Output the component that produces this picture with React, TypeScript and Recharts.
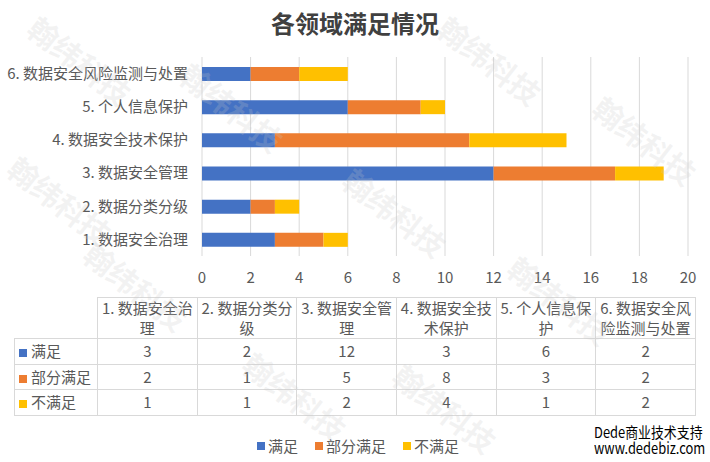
import React from "react";
import { Bar, BarChart, CartesianGrid, XAxis, YAxis } from "recharts";

const categories = [
  "1. 数据安全治理",
  "2. 数据分类分级",
  "3. 数据安全管理",
  "4. 数据安全技术保护",
  "5. 个人信息保护",
  "6. 数据安全风险监测与处置",
];
const satisfied = [3, 2, 12, 3, 6, 2];
const partial = [2, 1, 5, 8, 3, 2];
const unsatisfied = [1, 1, 2, 4, 1, 2];
const xTicks = [0, 2, 4, 6, 8, 10, 12, 14, 16, 18, 20];

const seriesNames = ["满足", "部分满足", "不满足"];
const seriesKeys = ["s", "p", "u"];
const seriesValues = [satisfied, partial, unsatisfied];
const seriesColors = ["#4472C4", "#ED7D31", "#FFC000"];

// watermark spots (edge ones pulled inside)
const watermarks = [
  [80, 60],
  [490, 60],
  [232, 107],
  [645, 140],
  [395, 212],
  [60, 200],
  [136, 286],
  [560, 300],
  [295, 396],
  [445, 408],
];

const FONT = '"Noto Sans CJK SC", "Noto Sans", sans-serif';
const TEXT = "#595959";
const GRID = "#D9D9D9";

const data = categories.map((name, i) => ({
  name,
  s: satisfied[i],
  p: partial[i],
  u: unsatisfied[i],
}));

function DataTable() {
  const cell: React.CSSProperties = {
    border: `1px solid ${GRID}`,
    padding: "0 2px",
    textAlign: "center",
    color: TEXT,
  };
  return (
    <table
      style={{
        position: "absolute",
        left: 14,
        top: 297,
        width: 681,
        borderCollapse: "collapse",
        tableLayout: "fixed",
        fontFamily: FONT,
        fontSize: 15,
      }}
    >
      <colgroup>
        <col style={{ width: 83 }} />
        {categories.map((c) => (
          <col key={c} style={{ width: 99.67 }} />
        ))}
      </colgroup>
      <tbody>
        <tr style={{ height: 40 }}>
          <td style={{ borderTop: "none", borderLeft: "none" }} />
          {categories.map((c) => (
            <td key={c} style={{ ...cell, lineHeight: "20px" }}>
              {c}
            </td>
          ))}
        </tr>
        {seriesNames.map((s, si) => (
          <tr key={s} style={{ height: 25.5 }}>
            <td style={{ ...cell, textAlign: "left", padding: "0 0 0 4px", lineHeight: "22px" }}>
              <span
                style={{
                  display: "inline-block",
                  width: 8,
                  height: 8,
                  background: seriesColors[si],
                  marginRight: 4,
                }}
              />
              {s}
            </td>
            {seriesValues[si].map((v, i) => (
              <td key={i} style={{ ...cell, lineHeight: "22px" }}>
                {v}
              </td>
            ))}
          </tr>
        ))}
      </tbody>
    </table>
  );
}

export default function App() {
  return (
    <div
      style={{
        position: "absolute",
        left: 0,
        top: 0,
        width: 710,
        height: 462,
        background: "#fff",
        overflow: "hidden",
        fontFamily: FONT,
      }}
    >
      <div
        style={{
          position: "absolute",
          top: 5,
          left: 0,
          width: 710,
          textAlign: "center",
          fontSize: 24,
          fontWeight: 700,
          color: "#404040",
        }}
      >
        各领域满足情况
      </div>

      <div style={{ position: "absolute", left: 0, top: 0 }}>
        <BarChart
          width={710}
          height={290}
          data={data}
          layout="vertical"
          margin={{ top: 57, right: 22, bottom: 4, left: 0 }}
        >
          <CartesianGrid horizontal={false} stroke={GRID} />
          <XAxis
            type="number"
            domain={[0, 20]}
            ticks={xTicks}
            axisLine={false}
            tickLine={false}
            tickMargin={10}
            height={30}
            tick={{ fill: TEXT, fontSize: 15, fontFamily: FONT }}
          />
          <YAxis
            type="category"
            dataKey="name"
            reversed
            width={202}
            axisLine={false}
            tickLine={false}
            tickMargin={8}
            tick={{ fill: TEXT, fontSize: 15, fontFamily: FONT }}
          />
          {seriesKeys.map((k, i) => (
            <Bar
              key={k}
              dataKey={k}
              name={seriesNames[i]}
              stackId="a"
              fill={seriesColors[i]}
              barSize={14}
              isAnimationActive={false}
            />
          ))}
        </BarChart>
      </div>

      <DataTable />

      <div
        style={{
          position: "absolute",
          top: 437,
          left: 257,
          display: "flex",
          gap: 17,
          fontSize: 15,
          color: TEXT,
          lineHeight: "18px",
          whiteSpace: "nowrap",
        }}
      >
        {seriesNames.map((s, i) => (
          <div key={s} style={{ display: "flex", alignItems: "center" }}>
            <span
              style={{
                display: "inline-block",
                width: 8,
                height: 8,
                background: seriesColors[i],
                marginRight: 3,
              }}
            />
            {s}
          </div>
        ))}
      </div>

      {watermarks.map(([x, y], i) => (
        <div
          key={i}
          style={{
            position: "absolute",
            left: x - 62,
            top: y - 16,
            width: 124,
            textAlign: "center",
            fontSize: 30,
            fontWeight: 700,
            lineHeight: "32px",
            color: "rgba(200,200,200,0.22)",
            transform: "rotate(38deg)",
            pointerEvents: "none",
            whiteSpace: "nowrap",
          }}
        >
          翰纬科技
        </div>
      ))}

      <div
        style={{
          position: "absolute",
          left: 594,
          top: 424,
          fontSize: 15,
          lineHeight: "16px",
          color: "#000",
          transform: "scaleX(0.86)",
          transformOrigin: "left top",
          whiteSpace: "nowrap",
        }}
      >
        <div>Dede商业技术支持</div>
        <div>www.dedebiz.com</div>
      </div>
    </div>
  );
}
